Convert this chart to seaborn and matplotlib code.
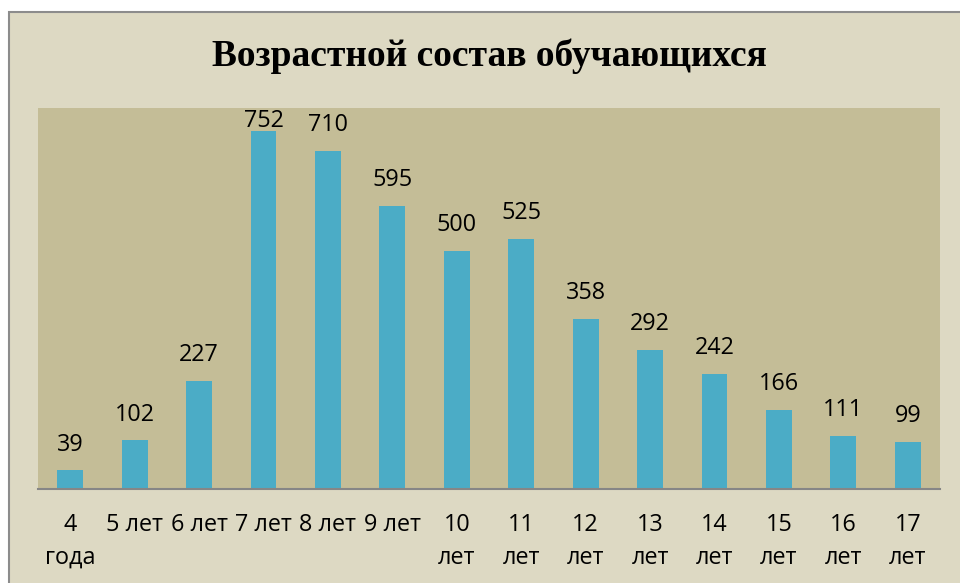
import matplotlib
matplotlib.use("agg")
import matplotlib.pyplot as plt
from matplotlib.patches import Rectangle
import seaborn as sns

ages = ["4\nгода", "5 лет", "6 лет", "7 лет", "8 лет", "9 лет", "10\nлет",
        "11\nлет", "12\nлет", "13\nлет", "14\nлет", "15\nлет", "16\nлет", "17\nлет"]
counts = [39, 102, 227, 752, 710, 595, 500, 525, 358, 292, 242, 166, 111, 99]
title = "Возрастной состав обучающихся"

W, H = 960, 583
sns.set_style("white")
plt.rcParams["font.family"] = ["Open Sans", "DejaVu Sans"]
plt.rcParams["text.color"] = "black"
plt.rcParams["xtick.color"] = "black"

fig = plt.figure(figsize=(W / 100, H / 100), dpi=100)
fig.patch.set_facecolor("white")
# chart frame (runs off the right and bottom edges)
fig.patches.append(Rectangle((8.5 / W, -0.05), 1.1, 1.05 - 12.5 / H,
                             transform=fig.transFigure, facecolor="#DDD9C3",
                             edgecolor="#8C8C8C", linewidth=1.5, zorder=-5))

ax = fig.add_axes([38 / W, (H - 489) / H, 902 / W, (489 - 108) / H])
ax.set_zorder(1)
ax.set_facecolor("#C4BD97")
sns.barplot(x=ages, y=counts, color="#4BACC6", saturation=1, width=0.4,
            linewidth=0, ax=ax)
ax.set_ylim(0, 800)
ax.set_xlim(-0.5, len(ages) - 0.5)

fs = 16.8
for i, v in enumerate(counts):
    if v + 80 > 800:
        ax.annotate(str(v), (i, 800), xytext=(0, -1), textcoords="offset points",
                    ha="center", va="top", fontsize=fs, color="black")
    else:
        ax.annotate(str(v), (i, v), xytext=(0, 10), textcoords="offset points",
                    ha="center", va="bottom", fontsize=fs, color="black")

for s in ["top", "right", "left"]:
    ax.spines[s].set_visible(False)
ax.spines["bottom"].set_color("#868686")
ax.spines["bottom"].set_linewidth(1.5)
ax.set_yticks([])
ax.tick_params(axis="x", length=0, pad=17, labelsize=fs, labelcolor="black")
for lbl in ax.get_xticklabels():
    lbl.set_linespacing(1.5)
ax.set_xlabel("")
ax.set_ylabel("")

fig.text(489 / W, 1 - 56 / H, title, ha="center", va="center", color="black",
         fontsize=27, fontweight="bold", family=["Liberation Serif", "DejaVu Serif"])

fig.savefig("out.png", dpi=100, facecolor=fig.get_facecolor())
